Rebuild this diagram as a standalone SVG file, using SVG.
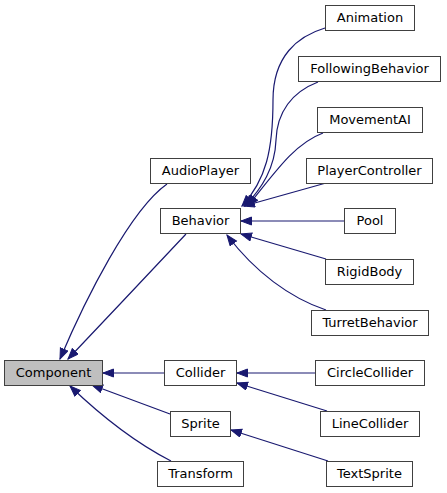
<svg xmlns="http://www.w3.org/2000/svg" width="447" height="493" viewBox="0 0 447 493">
<style>
.node rect{fill:#ffffff;stroke:#404040;stroke-width:1}
.node.root rect{fill:#bfbfbf}
.node text{font-family:"DejaVu Sans",sans-serif;font-size:13px;text-anchor:middle;fill:#000000}
.edges path{fill:none;stroke:#191970;stroke-width:1.2;marker-end:url(#arr)}
</style>
<defs>
<marker id="arr" markerUnits="userSpaceOnUse" markerWidth="13" markerHeight="10" refX="11" refY="4.5" orient="auto">
<path d="M0.5,0.5 L11,4.5 L0.5,8.5 z" fill="#191970" stroke="#191970" stroke-width="1"/>
</marker>
</defs>
<rect width="447" height="493" fill="#ffffff"/>
<g id="edges" class="edges">
<path d="M167,184 C130,210 85,300 60,359"/>
<path d="M186,234 C160,262 100,325 68,359"/>
<path d="M164,373 L103,373"/>
<path d="M170,414 L92,385"/>
<path d="M171,461 C130,440 95,410 70,386"/>
<path d="M315,373 L237,373"/>
<path d="M327,411 L237,383"/>
<path d="M328,461 L231,430"/>
<path d="M325,28 C298,36 273,56 273,100 C273,150 266,180 242,206"/>
<path d="M318,82 C292,92 277,112 276,140 C275,168 262,188 245,206"/>
<path d="M323,133 C296,143 278,168 248,206"/>
<path d="M326,183 L244,206"/>
<path d="M344,221 L241,221"/>
<path d="M326,259 L241,234"/>
<path d="M326,310 C290,298 255,272 227,235"/>
</g>
<g id="Animation" class="node"><rect x="325.5" y="5.5" width="89" height="25"/><text x="370" y="22">Animation</text></g>
<g id="FollowingBehavior" class="node"><rect x="298.5" y="56.5" width="142" height="25"/><text x="369.5" y="73">FollowingBehavior</text></g>
<g id="MovementAI" class="node"><rect x="317.5" y="107.5" width="105" height="25"/><text x="370" y="124">MovementAI</text></g>
<g id="PlayerController" class="node"><rect x="306.5" y="158.5" width="126" height="25"/><text x="369.5" y="175">PlayerController</text></g>
<g id="Pool" class="node"><rect x="344.5" y="208.5" width="51" height="25"/><text x="370" y="225">Pool</text></g>
<g id="RigidBody" class="node"><rect x="325.5" y="259.5" width="88" height="25"/><text x="369.5" y="276">RigidBody</text></g>
<g id="TurretBehavior" class="node"><rect x="311.5" y="310.5" width="117" height="25"/><text x="370" y="327">TurretBehavior</text></g>
<g id="AudioPlayer" class="node"><rect x="150.5" y="158.5" width="100" height="25"/><text x="200.5" y="175">AudioPlayer</text></g>
<g id="Behavior" class="node"><rect x="160.5" y="208.5" width="80" height="25"/><text x="200.5" y="225">Behavior</text></g>
<g id="Component" class="node root"><rect x="4.5" y="360.5" width="98" height="25"/><text x="53.5" y="377">Component</text></g>
<g id="Collider" class="node"><rect x="164.5" y="360.5" width="72" height="25"/><text x="200.5" y="377">Collider</text></g>
<g id="Sprite" class="node"><rect x="170.5" y="411.5" width="60" height="25"/><text x="200.5" y="428">Sprite</text></g>
<g id="Transform" class="node"><rect x="157.5" y="461.5" width="86" height="25"/><text x="200.5" y="478">Transform</text></g>
<g id="CircleCollider" class="node"><rect x="315.5" y="360.5" width="109" height="25"/><text x="370" y="377">CircleCollider</text></g>
<g id="LineCollider" class="node"><rect x="320.5" y="411.5" width="99" height="25"/><text x="370" y="428">LineCollider</text></g>
<g id="TextSprite" class="node"><rect x="326.5" y="461.5" width="86" height="25"/><text x="369.5" y="478">TextSprite</text></g>
</svg>
